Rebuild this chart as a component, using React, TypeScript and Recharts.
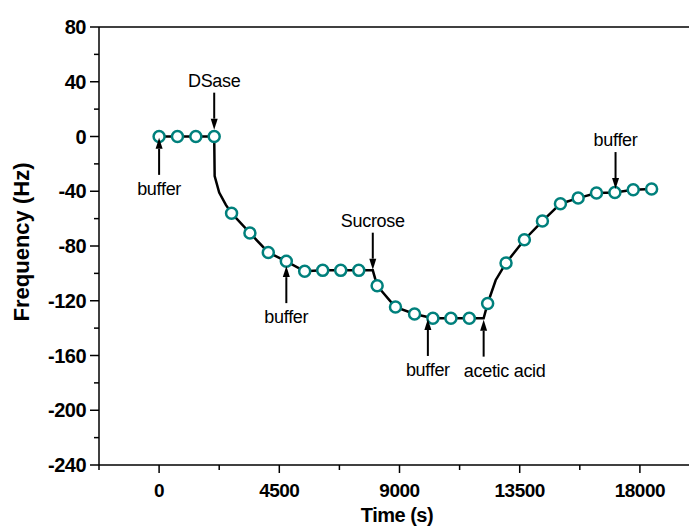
import { ComposedChart, Line, Scatter, XAxis, YAxis, Label, ReferenceLine } from 'recharts';

// black trace (time in s, frequency shift in Hz)
const traceTime = [0, 2063, 2080, 2250, 2500, 2713, 3400, 4088, 4763, 5450, 6125, 6800, 7475, 8000, 8163, 8838, 9563, 10250, 10925, 11613, 12150, 12300, 12600, 12988, 13675, 14350, 15025, 15688, 16375, 17063, 17750, 18438];
const traceFreq = [0, 0, -29, -41, -50, -56, -70.5, -84.7, -91.2, -98.5, -97.8, -97.8, -97.8, -97.8, -109, -124.5, -129.7, -132.8, -132.8, -132.8, -132.8, -122, -105, -92.4, -75.4, -61.8, -49.1, -45, -41.3, -40.9, -38.9, -38.4];

// open circle markers
const markerTime = [0, 688, 1375, 2063, 2713, 3400, 4088, 4763, 5450, 6125, 6800, 7475, 8163, 8850, 9563, 10250, 10925, 11613, 12300, 12988, 13675, 14350, 15025, 15688, 16375, 17063, 17750, 18438];
const markerFreq = [0, 0, 0, 0, -56, -70.5, -84.7, -91.2, -98.5, -97.8, -97.8, -97.8, -109, -124.5, -129.7, -132.8, -132.8, -132.8, -122, -92.4, -75.4, -61.8, -49.1, -45, -41.3, -40.9, -38.9, -38.4];

// arrow annotations
const noteText = ['buffer', 'DSase', 'buffer', 'Sucrose', 'buffer', 'acetic acid', 'buffer'];
const noteTime = [0, 2063, 4763, 8000, 10062, 12150, 17088];
const noteFreq = [-1, 5, -94.7, -97.3, -133.3, -133.8, -38.4];
const noteSide = ['below', 'above', 'below', 'above', 'below', 'below', 'above'];

const xTicks = [-2250, 0, 2250, 4500, 6750, 9000, 11250, 13500, 15750, 18000];
const yTicks = [-240, -220, -200, -180, -160, -140, -120, -100, -80, -60, -40, -20, 0, 20, 40, 60, 80];

const FONT = "'Liberation Sans', Arial, sans-serif";
const TEAL = '#00807c';

const traceData = traceTime.map((t, i) => ({ t, f: traceFreq[i] }));
const markerData = markerTime.map((t, i) => ({ t, f: markerFreq[i] }));
const noteData = noteTime.map((t, i) => ({ t, f: noteFreq[i], text: noteText[i], side: noteSide[i] }));

const XTick = ({ x, y, payload }: any) => {
  const major = payload.value % 4500 === 0;
  return (
    <g>
      <line x1={x} x2={x} y1={y} y2={y + (major ? 8 : 5)} stroke="#000" strokeWidth={1.5} />
      {major && (
        <text x={x} y={y + 32} textAnchor="middle" fontFamily={FONT} fontWeight="bold" fontSize={19} letterSpacing={-0.5} fill="#000">
          {payload.value}
        </text>
      )}
    </g>
  );
};

const YTick = ({ x, y, payload }: any) => {
  const major = payload.value % 40 === 0;
  return (
    <g>
      <line x1={x} x2={x - (major ? 9 : 5)} y1={y} y2={y} stroke="#000" strokeWidth={1.5} />
      {major && (
        <text x={x - 13} y={y + 7} textAnchor="end" fontFamily={FONT} fontWeight="bold" fontSize={20} letterSpacing={-0.5} fill="#000">
          {payload.value}
        </text>
      )}
    </g>
  );
};

const Marker = ({ cx, cy }: any) => (
  <circle cx={cx} cy={cy} r={5.5} fill="#fff" stroke={TEAL} strokeWidth={2.5} />
);

const Note = ({ cx, cy, payload }: any) => {
  const up = payload.side === 'below'; // label below, arrow points up
  const dir = up ? 1 : -1;
  const len = 37;
  const head = 11;
  // the "acetic acid" label sits to the right of its arrow so it clears "buffer"
  const shift = payload.text === 'acetic acid' ? 21 : 0;
  return (
    <g>
      <line x1={cx} x2={cx} y1={cy + dir * head} y2={cy + dir * len} stroke="#000" strokeWidth={2} />
      <polygon points={`${cx},${cy} ${cx - 3.5},${cy + dir * head} ${cx + 3.5},${cy + dir * head}`} fill="#000" />
      <text x={cx + shift} y={up ? cy + 57 : cy - 43} textAnchor="middle" fontFamily={FONT} fontSize={18} letterSpacing={-0.3} fill="#000">
        {payload.text}
      </text>
    </g>
  );
};

export default function App() {
  return (
    <div style={{ position: 'fixed', left: 0, top: 0, width: 689, height: 526, background: '#fff' }}>
      <ComposedChart width={689} height={526} margin={{ top: 27, right: 0, bottom: 0, left: 0 }}>
        <XAxis
          dataKey="t"
          type="number"
          domain={[-2250, 19838]}
          ticks={xTicks}
          interval={0}
          tickSize={0}
          tickMargin={0}
          tick={<XTick />}
          height={61}
          axisLine={{ stroke: '#000', strokeWidth: 1.5 }}
          allowDataOverflow
        >
          <Label
            content={({ viewBox }: any) => (
              <text x={viewBox.x + viewBox.width / 2 + 3} y={viewBox.y + 57} textAnchor="middle" fontFamily={FONT} fontWeight="bold" fontSize={20} letterSpacing={-0.5} fill="#000">
                Time (s)
              </text>
            )}
          />
        </XAxis>
        <YAxis
          dataKey="f"
          type="number"
          domain={[-240, 80]}
          ticks={yTicks}
          interval={0}
          tickSize={0}
          tickMargin={0}
          tick={<YTick />}
          width={99}
          axisLine={{ stroke: '#000', strokeWidth: 1.5 }}
          allowDataOverflow
        >
          <Label
            content={({ viewBox }: any) => {
              const cx = 22;
              const cy = viewBox.y + viewBox.height / 2 - 4;
              return (
                <text x={cx} y={cy} transform={`rotate(-90 ${cx} ${cy})`} dy={7} textAnchor="middle" fontFamily={FONT} fontWeight="bold" fontSize={22} fill="#000">
                  Frequency (Hz)
                </text>
              );
            }}
          />
        </YAxis>
        <ReferenceLine y={80} stroke="#000" strokeWidth={1.5} />
        <Line data={traceData} dataKey="f" type="linear" stroke="#000" strokeWidth={2.5} dot={false} isAnimationActive={false} />
        <Scatter data={markerData} dataKey="f" shape={<Marker />} isAnimationActive={false} />
        <Scatter data={noteData} dataKey="f" shape={<Note />} isAnimationActive={false} />
      </ComposedChart>
    </div>
  );
}
